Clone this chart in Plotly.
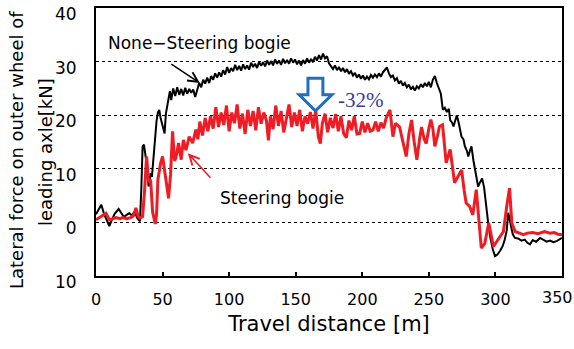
import plotly.graph_objects as go

# ---- data ----
none_x = [0, 2, 4, 6, 8, 10, 12, 14, 17, 19, 21, 23, 25, 27, 29, 31, 33, 34, 35, 36, 37, 38, 39.5, 41, 42, 43.5,
          44.5, 45.5, 46.5, 47.5, 48.5, 49.5, 50.5, 51.5, 52.5, 53.5, 54.5, 55.5, 56.5, 58, 59.5, 61, 62.5, 64,
          65.5, 67, 68.5, 70, 71.5, 73, 74.5, 76, 77.5, 79, 80.5, 82, 83.5, 85, 86.5, 88, 89.5, 91, 92.5, 94,
          95.5, 97, 98.5, 100, 101.5, 103, 104.5, 106, 107.5, 109, 110.5, 112, 113.5, 115, 116.5, 118, 119.5,
          121, 122.5, 124, 125.5, 127, 128.5, 130, 131.5, 133, 134.5, 136, 137.5, 139, 140.5, 142, 143.5, 145,
          146.5, 148, 149.5, 151, 152.5, 154, 155.5, 157, 158.5, 160, 161.5, 163, 164.5, 166, 167.5, 169, 170.5,
          172, 173.5, 175, 176.5, 178, 179.5, 181, 182.5, 184, 185.5, 187, 188.5, 190, 191.5, 193, 194.5, 196,
          197.5, 199, 200.5, 202, 203.5, 205, 206.5, 208, 209.5, 211, 212.5, 214, 215.5, 217, 218.5, 220, 221.5,
          223, 224.5, 226, 227.5, 229, 230.5, 232, 233.5, 235, 236.5, 238, 239.5, 241, 242.5, 244, 245.5, 247,
          248.5, 250, 251.5, 253, 254.5, 256, 257.5, 259, 260.5, 262, 263.5, 265, 266, 267.5, 268.5, 270, 271,
          272.5, 274.5, 276, 277, 278.5, 279.6, 281, 282, 283.5, 284.6, 286, 287, 288.5, 290, 291.5, 293, 294.5,
          296, 298, 299.7, 301.5, 303.5, 305.5, 307, 308.5, 309.6, 311, 313, 314.6, 317, 319.6, 322, 324, 326,
          328, 330.5, 333.5, 336, 338.5, 341, 343.5, 346, 348, 350]
none_y = [1.5, 2.5, 3.3, 1.6, 0.3, -0.7, 0.5, 1.6, 2.5, 1.8, 1.0, 1.4, 1.7, 1.3, 2.0, 0.8, 0.2, 6, 14.2, 14.5, 12.5,
          11, 6.7, 9.2, 8.5, 13.5, 16.5, 19, 20.5, 21, 19.5, 18.4, 17.2, 16.6, 20.3, 21.5, 23, 24.5, 22.8, 25, 23.6,
          25.2, 23.8, 24.9, 23.7, 25.1, 24, 24.9, 24.2, 24.8, 23.4, 24.8, 26, 25.2, 26.6, 25.9, 27, 26, 27.3,
          26.6, 27.8, 27, 28, 27.2, 28.4, 27.6, 29, 27.9, 28.8, 28.2, 29.4, 28.4, 29.2, 28.3, 29.5, 28.6, 29.3,
          28.5, 29.8, 29, 29.6, 28.8, 30, 29.2, 29.9, 29.1, 30.2, 29.4, 30.1, 29.3, 30.4, 29.6, 30.2, 29.4, 30.5,
          29.7, 30.3, 29.6, 30.6, 29.8, 30.4, 29.5, 30.2, 29.3, 30.3, 29.6, 30.6, 29.8, 30.5, 29.9, 30.9, 30.2,
          31.2, 30.4, 31.5, 30.6, 31, 29.7, 29.2, 28.6, 29.3, 28.4, 29, 28.2, 28.8, 28, 28.6, 27.7, 28.2, 27.4,
          27.9, 27, 27.6, 26.8, 27.4, 26.6, 27.2, 26.7, 27.5, 27, 27.6, 27.1, 27.8, 27.2, 28, 28.4, 28.9, 27.8,
          27.1, 27.4, 26.5, 26.9, 25.9, 26.4, 25.5, 26, 25.2, 25.7, 24.8, 25.3, 24.6, 25.4, 25, 25.8, 25.2, 26,
          25.4, 26.2, 25.2, 26.6, 27.3, 26, 25, 24, 21, 21.4, 20.6, 21.2, 19.1, 18.6, 17.9, 19, 20, 18.5, 16,
          15.5, 14.2, 13.4, 12.3, 13.5, 14.2, 11.5, 9.8, 8, 6.7, 7.5, 8.2, 6.5, 3, 0, -2.6, -5, -6.3, -6.0, -5.3,
          -4.4, -3.2, -1.5, 1.8, -0.1, -2.2, -2.9, -3.0, -3.4, -3.2, -3.8, -4.1, -3.3, -3.6, -2.9, -3.2, -3.6,
          -3.4, -3.7, -3.5, -3.2, -2.9]

steer_x = [0, 3, 5, 7.5, 10, 12, 15, 18, 20, 23, 26, 28, 30, 31.5, 33, 35, 36.5, 38, 39.5, 41, 42.5, 44.5, 45.5,
           46.5, 48.5, 50, 52.5, 54.5, 56, 57.5, 59, 60, 62, 64, 65.6, 67.6, 70, 72.6, 75, 76.5, 78, 80, 82, 84,
           86, 88, 90, 92, 94, 96, 98, 100, 102, 104, 106, 108, 110, 112, 114, 116, 118, 120, 122, 124, 126, 128,
           129.5, 131, 133, 135, 137, 139, 141, 143, 145, 147, 149, 151, 153, 155, 157, 159, 161, 163, 165, 167,
           168.5, 170, 172, 174, 176, 178, 180, 182, 184, 186, 188, 190, 192, 194, 196, 198, 200, 202, 204, 206,
           208, 210, 212, 214, 216, 218, 220.8, 223, 225, 228, 230.5, 233, 235, 237, 239, 241, 243, 244.5, 246.5,
           248, 250, 251.5, 253, 254.5, 256.5, 258, 260.3, 263, 266, 269.3, 272, 274.6, 276.5, 278, 280.6, 283,
           285.6, 287.5, 289.4, 292, 295, 298.5, 302, 306, 308.5, 310.6, 312.3, 314.8, 318, 321, 324, 328, 332,
           337, 341, 344, 347, 350]
steer_y = [0.5, 1.0, 1.4, 1.7, 0.5, 0.6, 0.9, 0.7, 0.9, 0.7, 0.9, 1.2, 2.7, 1.2, 0.8, 1.1, 6, 12.3, 7.5, 8, 2,
           -0.3, 1.5, 8, 11, 12.3, 8, 4.5, 9, 17, 11.5, 12, 14.8, 11.7, 15.4, 13.5, 16, 14.8, 17.3, 15.5, 18.8,
           16.2, 19.5, 17, 19.8, 17.5, 21.5, 17.8, 20.5, 18.2, 21.8, 17, 20.5, 18.5, 22, 17.5, 20.3, 16.5, 21, 18,
           20.8, 17.2, 21.5, 18.4, 20.5, 19, 15.3, 19.8, 17.4, 21.8, 18, 20.8, 16.8, 19.5, 22, 17.8, 20.5, 18, 21,
           17, 19.8, 18.4, 20.6, 17.5, 21, 16, 14.7, 18.5, 20.3, 16.8, 19.5, 17.6, 20.2, 17, 19.8, 16.6, 15.8, 19,
           17.2, 19.8, 16.5, 16.6, 18.8, 16.8, 18.5, 17, 17.2, 18.8, 17, 18.6, 17.6, 19.5, 21, 16, 18.5, 17.8, 15,
           12.3, 16.5, 19.1, 15, 11.7, 15.5, 17.8, 15.5, 14.7, 17.5, 19.2, 17.5, 14.2, 16.2, 17.9, 18.2, 11.1,
           13.6, 7.4, 8.6, 9.8, 6.0, 3.6, 3, 1.4, 6.1, 0.5, -4.8, -3.9, -0.1, -4.5, -3.2, -1.7, 3, 6.4, -0.1, -1.7,
           -2.0, -2.3, -2.0, -1.9, -2.1, -1.7, -2.0, -1.9, -2.2, -2.3]

x_ticks = [0, 50, 100, 150, 200, 250, 300, 350]
x_tick_text = ["0", "50", "100", "150", "200", "250", "300", ""]
x_last_label = "350"
y_ticks = [-10, 0, 10, 20, 30, 40]
y_tick_text = ["10", "0", "10", "20", "30", "40"]

FONT = "DejaVu Sans"

fig = go.Figure()
fig.add_trace(go.Scatter(x=none_x, y=none_y, mode="lines",
                         line=dict(color="#000000", width=2), showlegend=False))
fig.add_trace(go.Scatter(x=steer_x, y=steer_y, mode="lines",
                         line=dict(color="#ee1c24", width=3), showlegend=False))

# hollow blue arrow
fig.add_shape(type="path",
              path="M 159.2 26.9 L 170.4 26.9 L 170.4 23.8 L 177.2 23.8 L 164.8 20.8 L 152.6 23.8 L 159.2 23.8 Z",
              xref="x", yref="y", line=dict(color="#1f6fbf", width=3), fillcolor="white")

fig.add_annotation(x=78, y=26.0, xref="x", yref="y", text="", showarrow=True,
                   ax=-30, ay=-20, arrowhead=5, arrowsize=1.3, arrowwidth=1.5, arrowcolor="#000000")
fig.add_annotation(x=69, y=12.9, xref="x", yref="y", text="", showarrow=True,
                   ax=24, ay=26, arrowhead=5, arrowsize=1.3, arrowwidth=1.5, arrowcolor="#ee1c24")

fig.add_annotation(x=(106 - 96) / 466, y=(276 - 43) / 268, xref="paper", yref="paper",
                   text="None\u2212Steering bogie", showarrow=False, xanchor="left", yanchor="middle",
                   font=dict(family=FONT, size=17, color="#000000"))
fig.add_annotation(x=(218 - 96) / 466, y=(276 - 198) / 268, xref="paper", yref="paper",
                   text="Steering bogie", showarrow=False, xanchor="left", yanchor="middle",
                   font=dict(family=FONT, size=17, color="#000000"))
fig.add_annotation(x=(336 - 96) / 466, y=(276 - 100) / 268, xref="paper", yref="paper",
                   text="-32%", showarrow=False, xanchor="left", yanchor="middle",
                   font=dict(family="Liberation Serif", size=21, color="#3b3b9e"))

# last x tick label (sits slightly left of its tick in the reference)
fig.add_annotation(x=(557 - 96) / 466, y=-(297 - 276) / 268, xref="paper", yref="paper",
                   text=x_last_label, showarrow=False, xanchor="center", yanchor="middle",
                   font=dict(family=FONT, size=16, color="#000000"))

# y-axis title in two lines
fig.add_annotation(x=(16 - 96) / 466, y=(276 - 150) / 268, xref="paper", yref="paper",
                   text="Lateral force on outer wheel of", showarrow=False, textangle=-90,
                   xanchor="center", yanchor="middle", font=dict(family=FONT, size=18, color="#000000"))
fig.add_annotation(x=(45 - 96) / 466, y=(276 - 152) / 268, xref="paper", yref="paper",
                   text="leading axle[kN]", showarrow=False, textangle=-90,
                   xanchor="center", yanchor="middle", font=dict(family=FONT, size=18, color="#000000"))

fig.update_xaxes(range=[0, 350], tickvals=x_ticks, ticktext=x_tick_text, ticks="inside", ticklen=4,
                 tickwidth=1.5, tickcolor="#000000", showline=True, linewidth=2, linecolor="#000000",
                 mirror=True, showgrid=False, zeroline=False, ticklabelstandoff=8, ticklabeloverflow="allow",
                 automargin=False,
                 tickfont=dict(family=FONT, size=16, color="#000000"),
                 title=dict(text="Travel distance [m]", font=dict(family=FONT, size=21, color="#000000"),
                            standoff=8))
fig.update_yaxes(range=[-10, 40], tickvals=y_ticks, ticktext=y_tick_text, ticks="",
                 showline=True, linewidth=2, linecolor="#000000", mirror=True,
                 showgrid=True, gridcolor="#000000", gridwidth=1, griddash="dot", zeroline=False,
                 ticklabelshift=6, ticklabelstandoff=14, ticklabeloverflow="allow", automargin=False,
                 tickfont=dict(family=FONT, size=17, color="#000000"))

fig.update_layout(width=574, height=349, margin=dict(l=96, r=12, t=8, b=73),
                  paper_bgcolor="white", plot_bgcolor="white")

fig.write_html("out.html")
